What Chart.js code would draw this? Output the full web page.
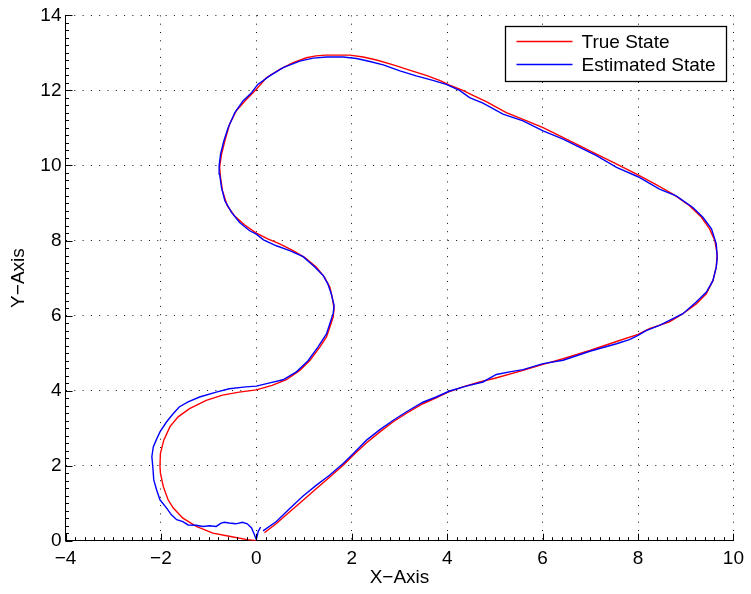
<!DOCTYPE html>
<html>
<head>
<meta charset="utf-8">
<script src="https://cdn.jsdelivr.net/npm/chart.js@4"></script>
<style>
  body { margin: 0; background: #fff; }
  canvas { display: block; }
</style>
</head>
<body>
<canvas id="trackChart" width="751" height="594"></canvas>
<script>
// values
const trueX = [0, -0.19, -0.57, -0.91, -1.26, -1.54, -1.74, -1.85, -1.95, -2.01, -2.02, -2.01, -1.94, -1.81, -1.64, -1.40, -1.05, -0.71, -0.36, 0.00,
  0.33, 0.63, 0.91, 1.12, 1.33, 1.47, 1.54, 1.61, 1.63, 1.59, 1.54, 1.43, 1.26, 1.01, 0.77, 0.49, 0.25, 0.00, -0.25, -0.46,
  -0.61, -0.71, -0.75, -0.77, -0.73, -0.66, -0.56, -0.42, -0.24, -0.07, 0.00, 0.21, 0.49, 0.77, 1.05, 1.25, 1.45, 1.96, 2.24, 2.52,
  2.87, 3.21, 3.56, 3.84, 4.05, 4.33, 4.54, 4.82, 5.24, 5.59, 6.01, 6.36, 6.71, 7.13, 7.48, 7.97, 8.38, 8.73, 9.08, 9.33,
  9.50, 9.61, 9.66, 9.64, 9.57, 9.43, 9.22, 8.94, 8.66, 8.24, 8.00, 7.55, 6.99, 6.43, 6.01, 5.59, 5.00, 4.68, 4.33, 4.02,
  3.77, 3.49, 3.14, 2.87, 2.59, 2.31, 2.03, 1.82, 1.54, 1.26, 0.98, 0.70, 0.42, 0.17];
const trueY = [0, 0.03, 0.12, 0.20, 0.38, 0.60, 0.87, 1.09, 1.44, 1.80, 2.00, 2.33, 2.68, 3.04, 3.30, 3.52, 3.74, 3.88, 3.96, 4.02,
  4.14, 4.29, 4.54, 4.80, 5.16, 5.43, 5.69, 5.96, 6.18, 6.49, 6.76, 7.02, 7.29, 7.55, 7.73, 7.91, 8.04, 8.20, 8.42, 8.66,
  8.93, 9.33, 9.68, 9.95, 10.30, 10.66, 11.10, 11.46, 11.72, 11.94, 12.03, 12.34, 12.56, 12.74, 12.87, 12.92, 12.94, 12.94, 12.89, 12.81,
  12.68, 12.54, 12.40, 12.27, 12.14, 12.00, 11.87, 11.70, 11.41, 11.23, 11.01, 10.79, 10.57, 10.30, 10.08, 9.77, 9.49, 9.24, 8.93, 8.62,
  8.31, 8.00, 7.64, 7.29, 6.93, 6.58, 6.31, 6.05, 5.83, 5.65, 5.50, 5.31, 5.07, 4.85, 4.70, 4.54, 4.33, 4.23, 4.10, 3.96,
  3.81, 3.65, 3.39, 3.17, 2.90, 2.61, 2.28, 2.01, 1.70, 1.39, 1.08, 0.77, 0.46, 0.21];

const estX = [0.09, 0.04, 0.00, -0.04, -0.10, -0.19, -0.29, -0.43, -0.57, -0.67, -0.74, -0.84, -0.98, -1.12, -1.26, -1.43, -1.54, -1.67, -1.78, -1.88,
  -2.02, -2.09, -2.15, -2.17, -2.19, -2.16, -2.10, -2.02, -1.88, -1.74, -1.61, -1.43, -1.19, -0.84, -0.57, -0.22, 0.00, 0.26, 0.56, 0.84,
  1.08, 1.29, 1.47, 1.54, 1.61, 1.63, 1.57, 1.50, 1.40, 1.22, 0.98, 0.70, 0.42, 0.15, 0.00, -0.14, -0.35, -0.52, -0.66, -0.73,
  -0.77, -0.78, -0.75, -0.68, -0.59, -0.45, -0.28, -0.10, 0.03, 0.28, 0.56, 0.91, 1.19, 1.47, 1.82, 2.10, 2.38, 2.66, 3.01, 3.35,
  3.70, 3.98, 4.26, 4.47, 4.75, 5.17, 5.59, 6.01, 6.43, 6.78, 7.13, 7.55, 8.00, 8.45, 8.80, 9.15, 9.36, 9.54, 9.64, 9.66,
  9.64, 9.57, 9.43, 9.22, 8.94, 8.66, 8.45, 8.17, 8.00, 7.82, 7.55, 6.99, 6.43, 6.01, 5.59, 5.31, 5.03, 4.75, 4.40, 4.05,
  3.77, 3.49, 3.14, 2.87, 2.59, 2.31, 2.03, 1.82, 1.54, 1.26, 0.98, 0.70, 0.42, 0.14];
const estY = [0.36, 0.25, 0.03, 0.16, 0.34, 0.45, 0.49, 0.45, 0.47, 0.49, 0.47, 0.38, 0.40, 0.38, 0.41, 0.42, 0.51, 0.56, 0.69, 0.87,
  1.09, 1.35, 1.62, 1.97, 2.24, 2.50, 2.68, 2.90, 3.17, 3.39, 3.57, 3.70, 3.83, 3.96, 4.05, 4.10, 4.12, 4.20, 4.29, 4.50,
  4.79, 5.16, 5.51, 5.78, 6.05, 6.27, 6.58, 6.84, 7.07, 7.30, 7.57, 7.73, 7.86, 8.02, 8.17, 8.26, 8.48, 8.75, 9.06, 9.41,
  9.77, 9.99, 10.30, 10.66, 11.01, 11.41, 11.72, 11.94, 12.16, 12.39, 12.61, 12.78, 12.86, 12.89, 12.89, 12.85, 12.77, 12.68, 12.52, 12.39,
  12.27, 12.16, 12.00, 11.81, 11.66, 11.37, 11.19, 10.92, 10.70, 10.48, 10.26, 9.95, 9.70, 9.37, 9.19, 8.88, 8.62, 8.31, 7.91, 7.55,
  7.29, 6.93, 6.62, 6.36, 6.05, 5.87, 5.74, 5.60, 5.47, 5.36, 5.25, 5.05, 4.81, 4.72, 4.56, 4.50, 4.43, 4.23, 4.12, 3.99,
  3.83, 3.69, 3.43, 3.21, 2.96, 2.68, 2.32, 2.06, 1.75, 1.48, 1.19, 0.86, 0.51, 0.26];

const xTicks = [-4, -2, 0, 2, 4, 6, 8, 10];
const yTicks = [0, 2, 4, 6, 8, 10, 12, 14];
const seriesLabels = ['True State', 'Estimated State'];
const seriesColors = ['#ff0000', '#0000ff'];

const toPoints = (xs, ys) => xs.map((x, i) => ({ x, y: ys[i] }));
const minus = v => String(v).replace('-', '\u2212');

const fontFamily = '"Liberation Sans", Arial, Helvetica, sans-serif';
Chart.defaults.font.family = fontFamily;
Chart.defaults.font.size = 19;
Chart.defaults.color = '#000';

// inward major + minor ticks like the matlab axes
const axisTicks = {
    id: 'axisTicks',
    afterDatasetsDraw(chart) {
        const { ctx, chartArea, scales: { x, y } } = chart;
        ctx.save();
        ctx.strokeStyle = '#000';
        ctx.lineWidth = 1;
        ctx.beginPath();
        const nx = Math.round((x.max - x.min) / 0.2);
        for (let i = 0; i <= nx; i++) {
            const px = Math.round(x.getPixelForValue(x.min + i * 0.2)) + 0.5;
            const len = i % 10 === 0 ? 7 : 3.5;
            ctx.moveTo(px, chartArea.bottom);
            ctx.lineTo(px, chartArea.bottom - len);
        }
        const ny = Math.round((y.max - y.min) / 0.2);
        for (let i = 0; i <= ny; i++) {
            const py = Math.round(y.getPixelForValue(y.min + i * 0.2)) + 0.5;
            const len = i % 10 === 0 ? 7 : 3.5;
            ctx.moveTo(chartArea.left, py);
            ctx.lineTo(chartArea.left + len, py);
        }
        ctx.stroke();
        ctx.restore();
    }
};

const boxedLegend = {
    id: 'boxedLegend',
    afterDraw(chart) {
        const { ctx, chartArea } = chart;
        const w = 221, h = 55;
        const left = Math.round(chartArea.right - 7.5 - w) + 0.5;
        const top = Math.round(chartArea.top + 10.7) + 0.5;
        ctx.save();
        ctx.fillStyle = '#fff';
        ctx.fillRect(left, top, w, h);
        ctx.strokeStyle = '#000';
        ctx.lineWidth = 1.3;
        ctx.strokeRect(left, top, w, h);
        ctx.font = '19px ' + fontFamily;
        ctx.textBaseline = 'middle';
        seriesLabels.forEach((label, i) => {
            const ly = top + 15 + i * 23;
            ctx.strokeStyle = seriesColors[i];
            ctx.lineWidth = 1.3;
            ctx.beginPath();
            ctx.moveTo(left + 11, ly);
            ctx.lineTo(left + 67, ly);
            ctx.stroke();
            ctx.fillStyle = '#000';
            ctx.fillText(label, left + 76, ly + 1);
        });
        ctx.restore();
    }
};

new Chart(document.getElementById('trackChart'), {
    type: 'scatter',
    data: {
        datasets: [
            { label: seriesLabels[0], data: toPoints(trueX, trueY), borderColor: seriesColors[0], order: 1 },
            { label: seriesLabels[1], data: toPoints(estX, estY), borderColor: seriesColors[1], order: 0 }
        ].map(ds => ({ ...ds, showLine: true, pointRadius: 0, borderWidth: 1.4, tension: 0, fill: false }))
    },
    options: {
        responsive: false,
        devicePixelRatio: 1,
        animation: false,
        layout: { padding: { top: 14.3, right: 17.5, left: 0, bottom: 0 } },
        scales: {
            x: {
                type: 'linear',
                min: -4,
                max: 10,
                afterBuildTicks: s => { s.ticks = xTicks.map(v => ({ value: v })); },
                afterFit: s => { s.height = 53.3; },
                ticks: { padding: 7, callback: v => minus(v), maxRotation: 0 },
                grid: { color: '#111', lineWidth: 1, drawTicks: false },
                border: { display: true, color: '#000', width: 1, dash: [1, 7.3] },
                title: { display: true, text: 'X\u2212Axis', padding: { top: 0, bottom: 4.7 } }
            },
            y: {
                type: 'linear',
                min: 0,
                max: 14,
                afterBuildTicks: s => { s.ticks = yTicks.map(v => ({ value: v })); },
                afterFit: s => { s.width = 65.5; },
                ticks: { padding: 4, callback: v => minus(v) },
                grid: { color: '#111', lineWidth: 1, drawTicks: false },
                border: { display: true, color: '#000', width: 1, dash: [1, 7.3] },
                title: { display: true, text: 'Y\u2212Axis', padding: { top: 7, bottom: 0 } }
            }
        },
        plugins: {
            legend: { display: false },
            tooltip: { enabled: false }
        }
    },
    plugins: [axisTicks, boxedLegend]
});
</script>
</body>
</html>
